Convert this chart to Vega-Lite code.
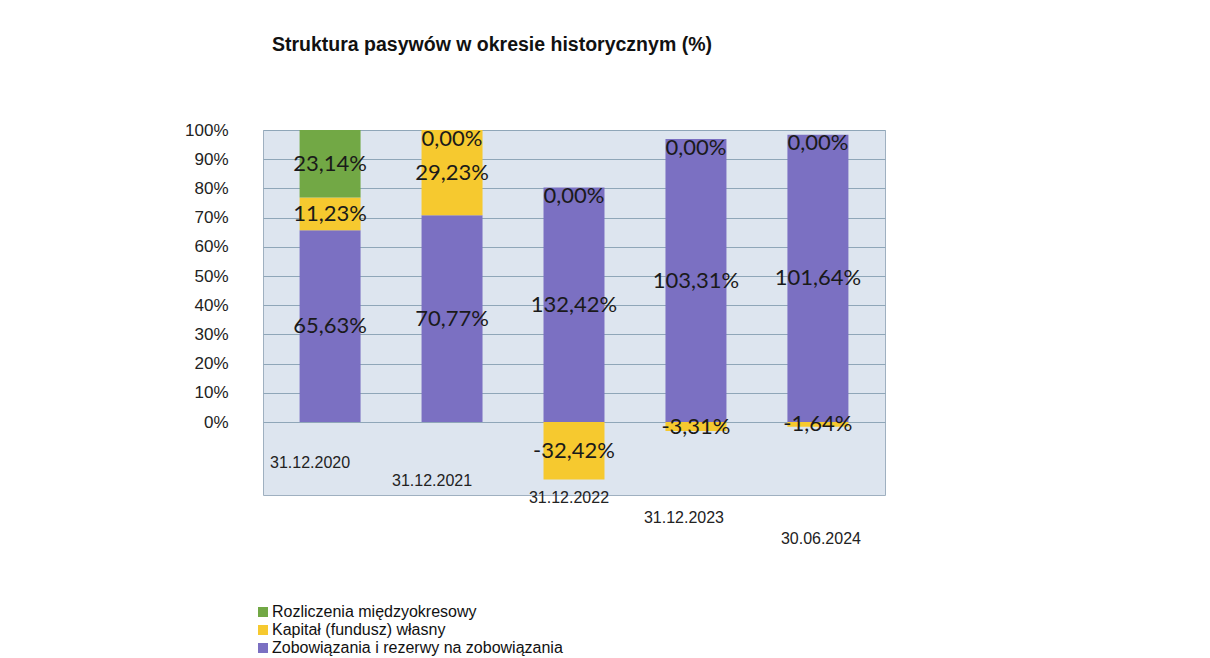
{
  "$schema": "https://vega.github.io/schema/vega-lite/v6.json",
  "autosize": {"type": "none"},
  "width": 622,
  "height": 365,
  "padding": {"left": 263, "top": 130, "right": 325, "bottom": 163},
  "background": "white",
  "title": {
    "text": "Struktura pasywów w okresie historycznym (%)",
    "anchor": "start",
    "frame": "group",
    "dx": 9,
    "offset": 66,
    "font": "Liberation Sans",
    "fontSize": 19.5,
    "fontWeight": "bold",
    "color": "#111111"
  },
  "data": {
    "values": [
      {"date": "31.12.2020", "series": "Zobowiązania i rezerwy na zobowiązania", "ord": 1, "value": 65.63},
      {"date": "31.12.2020", "series": "Kapitał (fundusz) własny", "ord": 2, "value": 11.23},
      {"date": "31.12.2020", "series": "Rozliczenia międzyokresowy", "ord": 3, "value": 23.14},
      {"date": "31.12.2021", "series": "Zobowiązania i rezerwy na zobowiązania", "ord": 1, "value": 70.77},
      {"date": "31.12.2021", "series": "Kapitał (fundusz) własny", "ord": 2, "value": 29.23},
      {"date": "31.12.2021", "series": "Rozliczenia międzyokresowy", "ord": 3, "value": 0.0},
      {"date": "31.12.2022", "series": "Zobowiązania i rezerwy na zobowiązania", "ord": 1, "value": 132.42},
      {"date": "31.12.2022", "series": "Kapitał (fundusz) własny", "ord": 2, "value": -32.42},
      {"date": "31.12.2022", "series": "Rozliczenia międzyokresowy", "ord": 3, "value": 0.0},
      {"date": "31.12.2023", "series": "Zobowiązania i rezerwy na zobowiązania", "ord": 1, "value": 103.31},
      {"date": "31.12.2023", "series": "Kapitał (fundusz) własny", "ord": 2, "value": -3.31},
      {"date": "31.12.2023", "series": "Rozliczenia międzyokresowy", "ord": 3, "value": 0.0},
      {"date": "30.06.2024", "series": "Zobowiązania i rezerwy na zobowiązania", "ord": 1, "value": 101.64},
      {"date": "30.06.2024", "series": "Kapitał (fundusz) własny", "ord": 2, "value": -1.64},
      {"date": "30.06.2024", "series": "Rozliczenia międzyokresowy", "ord": 3, "value": 0.0}
    ]
  },
  "transform": [
    {"calculate": "abs(datum.value)", "as": "absval"},
    {"joinaggregate": [{"op": "sum", "field": "absval", "as": "abssum"}], "groupby": ["date"]},
    {"calculate": "100 * datum.value / datum.abssum", "as": "share"},
    {"stack": "share", "groupby": ["date"], "sort": [{"field": "ord", "order": "ascending"}], "as": ["y0", "y1"]},
    {"calculate": "datum.value == 0 ? datum.y1 - 3 : (datum.y0 + datum.y1) / 2", "as": "ymid"},
    {"calculate": "replace(replace(format(datum.value, '.2f'), '.', ','), '\u2212', '-') + '%'", "as": "label"}
  ],
  "resolve": {"axis": {"x": "independent", "y": "independent"}},
  "layer": [
    {
      "mark": {"type": "bar"},
      "encoding": {
        "x": {
          "field": "date",
          "type": "nominal",
          "sort": ["31.12.2020", "31.12.2021", "31.12.2022", "31.12.2023", "30.06.2024"],
          "scale": {"paddingInner": 0.5, "paddingOuter": 0.3},
          "axis": {
            "title": null,
            "labelAngle": 0,
            "labelFont": "Liberation Sans",
            "labelFontSize": 16,
            "labelColor": "#222222",
            "labelOverlap": false,
            "domain": false,
            "ticks": false,
            "grid": false,
            "labelPadding": {
              "condition": [
                {"test": "datum.value === '31.12.2020'", "value": -41},
                {"test": "datum.value === '31.12.2021'", "value": -23},
                {"test": "datum.value === '31.12.2022'", "value": -6},
                {"test": "datum.value === '31.12.2023'", "value": 14}
              ],
              "value": 35
            },
            "labelOffset": {
              "condition": [
                {"test": "datum.value === '31.12.2020'", "value": -20},
                {"test": "datum.value === '31.12.2021'", "value": -20},
                {"test": "datum.value === '31.12.2022'", "value": -5},
                {"test": "datum.value === '31.12.2023'", "value": -12}
              ],
              "value": 3
            }
          }
        },
        "y": {
          "field": "y0",
          "type": "quantitative",
          "scale": {"domain": [-25, 100], "nice": false},
          "axis": {
            "title": null,
            "values": [0, 10, 20, 30, 40, 50, 60, 70, 80, 90, 100],
            "labelExpr": "datum.value + '%'",
            "labelFont": "Liberation Sans",
            "labelFontSize": 17,
            "labelColor": "#222222",
            "labelPadding": 35,
            "labelOverlap": false,
            "domain": false,
            "ticks": false,
            "grid": true,
            "gridColor": "#8fa6b8",
            "gridWidth": 1
          }
        },
        "y2": {"field": "y1"},
        "color": {
          "field": "series",
          "type": "nominal",
          "scale": {
            "domain": ["Rozliczenia międzyokresowy", "Kapitał (fundusz) własny", "Zobowiązania i rezerwy na zobowiązania"],
            "range": ["#72a845", "#f6c92f", "#7b70c2"]
          },
          "legend": {
            "title": null,
            "orient": "none",
            "legendX": -8,
            "legendY": 474,
            "direction": "vertical",
            "symbolType": "square",
            "symbolSize": 100,
            "symbolStrokeWidth": 0,
            "labelFont": "Liberation Sans",
            "labelFontSize": 16,
            "labelColor": "#111111",
            "labelOffset": 1,
            "labelLimit": 600,
            "rowPadding": 2
          }
        }
      }
    },
    {
      "mark": {"type": "text", "font": "Lato", "fontSize": 22, "color": "#1a1a1a", "baseline": "middle"},
      "encoding": {
        "x": {
          "field": "date",
          "type": "nominal",
          "sort": ["31.12.2020", "31.12.2021", "31.12.2022", "31.12.2023", "30.06.2024"],
          "axis": null
        },
        "y": {"field": "ymid", "type": "quantitative", "axis": null},
        "text": {"field": "label"}
      }
    }
  ],
  "config": {
    "view": {"fill": "#dde5ef", "stroke": "#9fb0c0"}
  }
}
